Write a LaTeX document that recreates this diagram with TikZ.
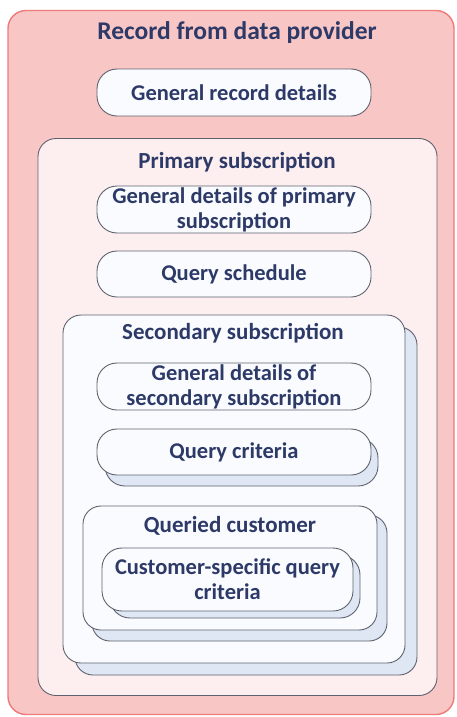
\documentclass[tikz,border=0pt]{standalone}
\usepackage{fontspec}
\setmainfont{Carlito}
\begin{document}
\begin{tikzpicture}[x=1pt,y=-1pt,
  every node/.style={inner sep=0pt, outer sep=0pt},
  txt/.style={font=\bfseries\fontsize{22.5}{25}\selectfont, text=navytxt, align=center},
  ttl/.style={font=\bfseries\fontsize{25.5}{28}\selectfont, text=navytxt},
  sub/.style={font=\bfseries\fontsize{23}{25}\selectfont, text=navytxt},
  outerbox/.style={draw=redline, line width=1.4pt, fill=pinkfill, rounded corners=18pt},
  primbox/.style={draw=grayline, line width=0.9pt, fill=lightpink, rounded corners=18pt},
  frontbox/.style={draw=grayline, line width=0.9pt, fill=whitefill, rounded corners=18pt},
  backbox/.style={draw=grayline, line width=0.9pt, fill=bluefill, rounded corners=18pt},
  pill/.style={draw=grayline, line width=0.9pt, fill=whitefill, rounded corners=20pt},
  backpill/.style={draw=grayline, line width=0.9pt, fill=bluefill, rounded corners=20pt}
]
\definecolor{navytxt}{RGB}{45,58,104}
\definecolor{redline}{RGB}{238,122,122}
\definecolor{pinkfill}{RGB}{249,198,198}
\definecolor{lightpink}{RGB}{253,239,239}
\definecolor{grayline}{RGB}{95,98,110}
\definecolor{whitefill}{RGB}{249,251,255}
\definecolor{bluefill}{RGB}{222,231,243}
\useasboundingbox (0,0) rectangle (457,717);
% outer record
\node[outerbox, minimum width=446pt, minimum height=704pt] (rec) at (231,362.5) {};
\node[ttl] (recT) at (237,33) {Record from data provider};
\node[pill, minimum width=274pt, minimum height=47pt, txt] (grd) at (234,92.5) {General record details};
% primary subscription
\node[primbox, minimum width=399pt, minimum height=557pt] (prim) at (237.5,417) {};
\node[sub] (primT) at (237,162) {Primary subscription};
\node[pill, minimum width=274pt, minimum height=47pt, txt] (gdp) at (234,209.5) {General details of primary\\subscription};
\node[pill, minimum width=274pt, minimum height=46pt, txt] (qs) at (234,274) {Query schedule};
% secondary subscription (stack)
\node[backbox, minimum width=342pt, minimum height=348pt] (secB) at (246,501) {};
\node[frontbox, minimum width=342pt, minimum height=348pt] (sec) at (234,489) {};
\node[sub] (secT) at (233,333) {Secondary subscription};
\node[pill, minimum width=274pt, minimum height=47pt, txt] (gds) at (234,386.5) {General details of\\secondary subscription};
% query criteria (stack)
\node[backpill, minimum width=273pt, minimum height=48pt] (qcB) at (241.5,462) {};
\node[pill, minimum width=274pt, minimum height=46pt, txt] (qc) at (234,452) {Query criteria};
% queried customer (stack)
\node[backbox, minimum width=295pt, minimum height=126pt] (qcuB) at (239.5,578) {};
\node[frontbox, minimum width=294pt, minimum height=124pt] (qcu) at (230,568) {};
\node[sub] (qcuT) at (230,526) {Queried customer};
% customer-specific (stack)
\node[backpill, minimum width=250pt, minimum height=63pt] (csB) at (235,586.5) {};
\node[pill, minimum width=251pt, minimum height=63pt, txt] (cs) at (227.5,579.5) {Customer-specific query\\criteria};
\end{tikzpicture}
\end{document}
